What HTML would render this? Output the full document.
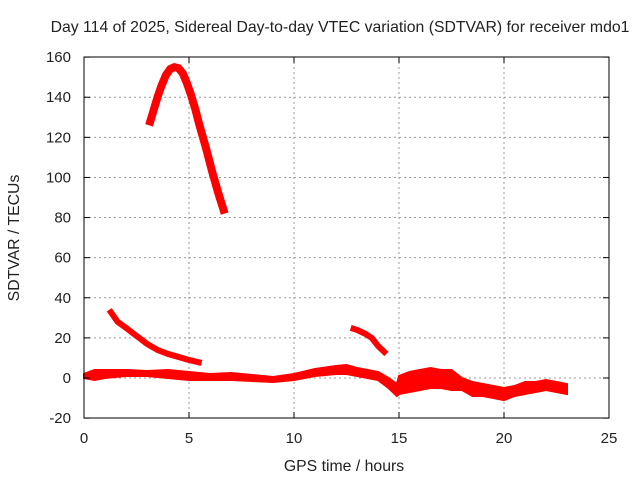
<!DOCTYPE html>
<html><head><meta charset="utf-8"><style>
body{margin:0;background:#fff;}
svg text{font-family:"Liberation Sans",sans-serif;fill:#222;}
</style></head><body>
<svg id="chart" width="640" height="480" xmlns="http://www.w3.org/2000/svg">
<text x="340" y="32" font-size="15.8" text-anchor="middle">Day 114 of 2025, Sidereal Day-to-day VTEC variation (SDTVAR) for receiver mdo1</text>
<g id="grid"></g>
<g id="marks"></g>
<rect x="84" y="57" width="525" height="361" fill="none" stroke="#000" stroke-width="1"/>
<g id="ticks"></g>
<text x="344" y="471" font-size="15.8" text-anchor="middle">GPS time / hours</text>
<text transform="translate(19,238) rotate(-90)" font-size="15.8" text-anchor="middle">SDTVAR / TECUs</text>
</svg>
<script>
const xTicks=[0,5,10,15,20,25];
const yTicks=[-20,0,20,40,60,80,100,120,140,160];
const arc1H=[3.1,3.3,3.5,3.7,3.9,4.1,4.3,4.5,4.7,4.9,5.1,5.3,5.5,5.8,6.1,6.4,6.7];
const arc1V=[126,133,140,146,151,154,155,154.5,152,147,141,134,126,115,103,92,82];
const arc2H=[1.2,1.4,1.6,2.0,2.5,3.0,3.5,4.0,4.5,5.0,5.6];
const arc2V=[34,31,28,25,21,17,14,12,10.5,9,7.5];
const arc3H=[12.7,13.0,13.4,13.7,14.0,14.4];
const arc3V=[25,24,22,20,16,12];
const bandH=[0,0.5,1,2,3,4,5,6,7,8,9,10,11,12,12.5,13,14,14.5,14.9,15,15.5,16,16.5,17,17.5,18,18.5,19,20,20.5,21,21.5,22,22.5,23];
const bandUpper=[2,4,4,4,3.5,4,3,2,2.5,1.5,0.5,2,4.5,6,6.5,5,3,0,-3,1,3,4,5,4,4,0,-2,-3,-5,-4,-2,-2,-1,-2,-3];
const bandLower=[0,-1,0,1,1,0,-1,-1,-1,-1.5,-2,-1,1,2,2,1,-1,-5,-9,-8,-7,-6,-5,-5,-6,-6,-9,-9,-11,-9,-8,-7,-6,-7,-8];
const NS="http://www.w3.org/2000/svg";
const X=h=>84+h*21;
const Y=v=>378-v*(361/180);
function mk(t,a,p){const e=document.createElementNS(NS,t);for(const k in a)e.setAttribute(k,a[k]);p.appendChild(e);return e;}
const grid=document.getElementById('grid'),ticks=document.getElementById('ticks'),marks=document.getElementById('marks');
xTicks.forEach(t=>{
  if(t>0&&t<25){const l=mk('line',{x1:X(t),x2:X(t),y1:57,y2:418,stroke:'#999','stroke-dasharray':'2,3'},grid);
  
  }
  const k=mk('line',{x1:X(t),x2:X(t),y1:418,y2:412,stroke:'#000'},ticks);
  
  
  const k2=mk('line',{x1:X(t),x2:X(t),y1:57,y2:63,stroke:'#000'},ticks);
  
  
  const tx=mk('text',{x:X(t),y:443,'font-size':'15','text-anchor':'middle'},ticks);tx.textContent=t;
  
  
});
yTicks.forEach(t=>{
  if(t>-20&&t<160){const l=mk('line',{x1:84,x2:609,y1:Y(t),y2:Y(t),stroke:'#999','stroke-dasharray':'2,3'},grid);
  
  }
  const k=mk('line',{x1:84,x2:90,y1:Y(t),y2:Y(t),stroke:'#000'},ticks);
  
  
  const k2=mk('line',{x1:603,x2:609,y1:Y(t),y2:Y(t),stroke:'#000'},ticks);
  
  
  const tx=mk('text',{x:71,y:Y(t)+5,'font-size':'15','text-anchor':'end'},ticks);tx.textContent=t;
  
  
});
function line(H,V,name,w){
  const p=mk('polyline',{points:H.map((h,i)=>X(h)+','+Y(V[i])).join(' '),fill:'none',stroke:'#f00','stroke-width':w,'stroke-linejoin':'round'},marks);
  
  
}
line(arc1H,arc1V,'arc-series-1',8);
line(arc2H,arc2V,'arc-series-2',6);
line(arc3H,arc3V,'arc-series-3',6);
const pts=bandH.map((h,i)=>X(h)+','+Y(bandUpper[i])).concat(bandH.map((h,i)=>X(h)+','+Y(bandLower[i])).reverse());
const band=mk('polygon',{points:pts.join(' '),fill:'#f00',stroke:'#f00','stroke-width':2},marks);


</script>
</body></html>
